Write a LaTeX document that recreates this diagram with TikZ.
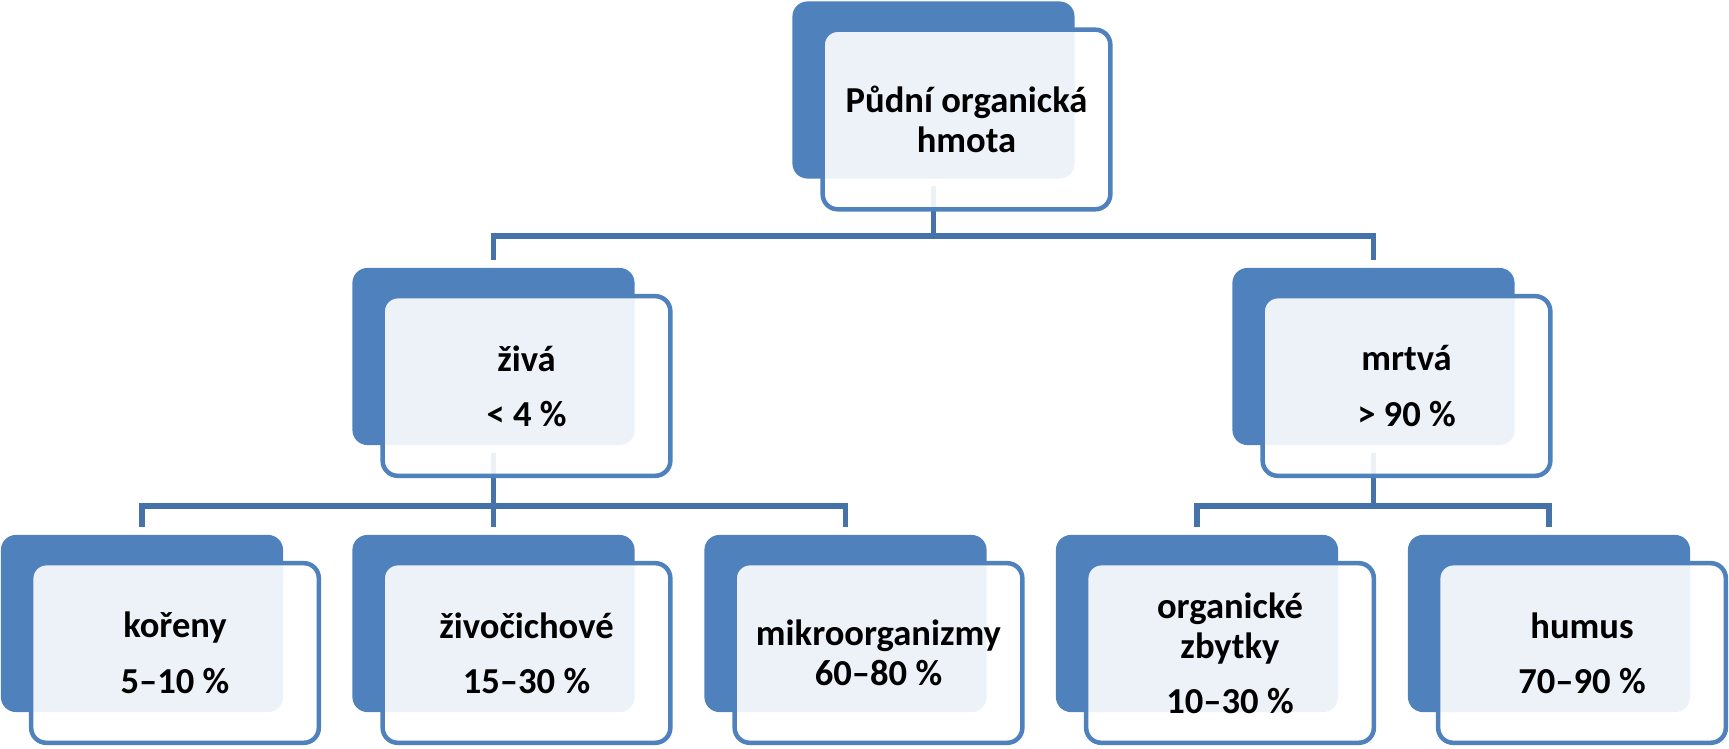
\documentclass[tikz,border=0pt]{standalone}
\usepackage{fontspec}
\setmainfont{Carlito}
\usetikzlibrary{positioning}
\definecolor{cardblue}{HTML}{4F81BD}
\definecolor{linkblue}{HTML}{4672AA}

\begin{document}
\begin{tikzpicture}[x=0.01cm, y=-0.01cm,
    backcard/.style={fill=cardblue, rounded corners=0.15cm, minimum width=2.82cm, minimum height=1.77cm, inner sep=0pt},
    frontcard/.style={draw=cardblue, line width=0.045cm, fill=white, fill opacity=0.9, text opacity=1,
      rounded corners=0.15cm, minimum width=2.875cm, minimum height=1.795cm, inner sep=0pt,
      align=center, font=\fontsize{10.4pt}{11.4pt}\selectfont\bfseries},
    link/.style={draw=linkblue, line width=0.055cm, shorten <=0.07cm, shorten >=0.07cm}]
    \useasboundingbox (0,0) rectangle (1729,749);

    % blue cards behind
    \node[backcard] (top) at (933.5,90) {};
    \node[backcard] (ziva) at (493.5,356.5) {};
    \node[backcard] (mrtva) at (1373.5,356.5) {};
    \node[backcard] (koreny) at (142,623.5) {};
    \node[backcard] (zivocichove) at (493.5,623.5) {};
    \node[backcard] (mikro) at (845.5,623.5) {};
    \node[backcard] (organicke) at (1197,623.5) {};
    \node[backcard] (humus) at (1549,623.5) {};

    % tree lines
    \draw[link, shorten >=0pt] (top.south) -- ++(0,56.5) coordinate (j1);
    \foreach \c in {ziva,mrtva}
      \draw[link, shorten <=0pt] (j1) -| (\c.north);
    \draw[link, shorten >=0pt] (ziva.south) -- ++(0,60) coordinate (j2);
    \foreach \c in {koreny,zivocichove,mikro}
      \draw[link, shorten <=0pt] (j2) -| (\c.north);
    \draw[link, shorten >=0pt] (mrtva.south) -- ++(0,60) coordinate (j3);
    \foreach \c in {organicke,humus}
      \draw[link, shorten <=0pt] (j3) -| (\c.north);

    % light cards with the texts
    \node[frontcard] (top-f) at ([shift={(33,29.5)}]top.center) {Půdní organická\\hmota};
    \node[frontcard] (ziva-f) at ([shift={(33,29.5)}]ziva.center) {živá\\[0.15cm]< 4 \%};
    \node[frontcard] (mrtva-f) at ([shift={(33,29.5)}]mrtva.center) {mrtvá\\[0.15cm]> 90 \%};
    \node[frontcard] (koreny-f) at ([shift={(33,29.5)}]koreny.center) {kořeny\\[0.16cm]5–10 \%};
    \node[frontcard] (zivocichove-f) at ([shift={(33,29.5)}]zivocichove.center) {živočichové\\[0.15cm]15–30 \%};
    \node[frontcard] (mikro-f) at ([shift={(33,29.5)}]mikro.center) {mikroorganizmy\\60–80 \%};
    \node[frontcard] (organicke-f) at ([shift={(33,29.5)}]organicke.center) {organické\\zbytky\\[0.15cm]10–30 \%};
    \node[frontcard] (humus-f) at ([shift={(33,29.5)}]humus.center) {humus\\[0.15cm]70–90 \%};

  \end{tikzpicture}
\end{document}
